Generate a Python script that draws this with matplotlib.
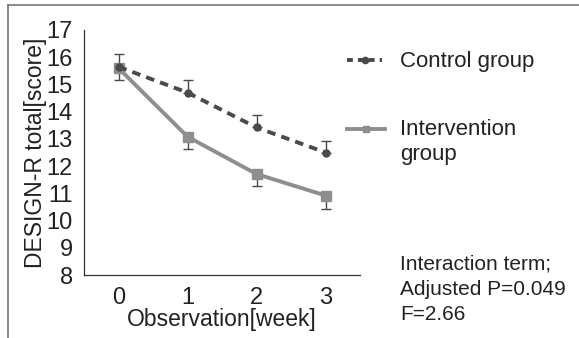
import matplotlib
matplotlib.use("Agg")
import matplotlib.pyplot as plt
from matplotlib.lines import Line2D

plt.rcParams['font.family'] = ['Liberation Sans', 'DejaVu Sans']

weeks = [0, 1, 2, 3]
control = [15.65, 14.7, 13.42, 12.5]
control_err = [0.45, 0.46, 0.45, 0.44]
intervention = [15.6, 13.08, 11.71, 10.92]
intervention_err = [0.45, 0.44, 0.44, 0.5]

dark = '#4a4a4a'
light = '#8e8e8e'
txt = '#222222'
W, H = 579, 338

fig = plt.figure(figsize=(5.79, 3.38), dpi=100)
ax = fig.add_axes([84/W, 1-275/H, (360-84)/W, (275-30)/H])

# one-sided error bars: up for control, down for intervention
ax.errorbar(weeks, control, yerr=[[0]*4, control_err], fmt='none', ecolor=dark,
            elinewidth=1, capsize=3.5, capthick=1)
ax.errorbar(weeks, intervention, yerr=[intervention_err, [0]*4], fmt='none', ecolor=dark,
            elinewidth=1, capsize=3.5, capthick=1)
ax.plot(weeks, intervention, color=light, lw=2.8, marker='s', ms=6.5)
ax.plot(weeks, control, color=dark, lw=2.8, ls=(0, (2.2, 1.6)), marker='o', ms=5)

ax.set_xlim(-0.5, 3.5)
ax.set_ylim(8, 17)
ax.set_xticks(weeks)
ax.set_yticks(range(8, 18))
ax.tick_params(length=0, labelsize=17, colors=txt)
ax.tick_params(axis='y', pad=8)
ax.tick_params(axis='x', pad=9)
for s in ['top', 'right']:
    ax.spines[s].set_visible(False)
for s in ['left', 'bottom']:
    ax.spines[s].set_color('#333333')
    ax.spines[s].set_linewidth(0.9)
ax.set_xlabel('Observation[week]', fontsize=16.5, color=txt, labelpad=-1)
ax.set_ylabel('DESIGN-R total[score]', fontsize=16.5, color=txt, labelpad=0)

# legend, placed by hand like the original (handle level with first text line)
fig.add_artist(Line2D([347/W, 382/W], [1-60/H, 1-60/H], color=dark, lw=2.8,
                      ls=(0, (1.5, 1.3))))
fig.add_artist(Line2D([364.5/W], [1-60/H], color=dark, marker='o', ms=4.5))
fig.text(400/W, 1-61/H, 'Control group', fontsize=16, color=txt, va='center')
fig.add_artist(Line2D([347/W, 385/W], [1-129/H, 1-129/H], color=light, lw=2.8))
fig.add_artist(Line2D([366/W], [1-129/H], color=light, marker='s', ms=4.5))
fig.text(400/W, 1-119/H, 'Intervention\ngroup', fontsize=16, color=txt, va='top',
         linespacing=1.25)

fig.text(400/W, 1-254/H, 'Interaction term;\nAdjusted P=0.049\nF=2.66',
         fontsize=15, color=txt, va='top', linespacing=1.45)

# partial outer frame of the original panel
fig.add_artist(Line2D([8/W, 8/W], [0, 1-5/H], color='#777777', lw=1.2))
fig.add_artist(Line2D([8/W, 1], [1-5/H, 1-5/H], color='#777777', lw=1.2))

fig.savefig('out.png', dpi=100)
